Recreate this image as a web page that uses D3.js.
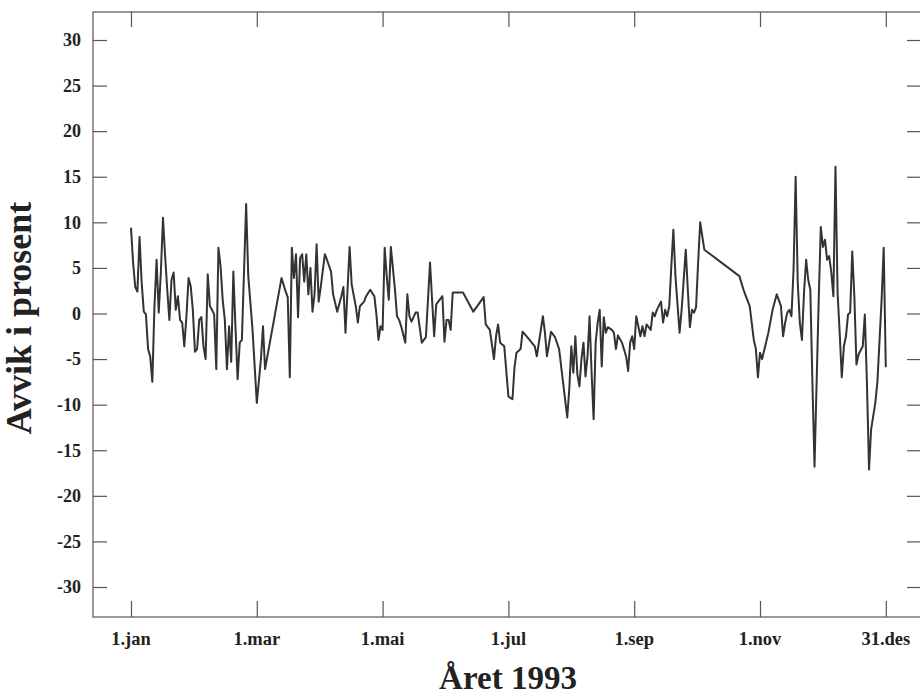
<!DOCTYPE html>
<html>
<head>
<meta charset="utf-8">
<script src="https://cdn.jsdelivr.net/npm/d3@7"></script>
<style>
  html, body { margin: 0; padding: 0; background: #fff; }
  svg { display: block; }
  text { font-family: "Liberation Serif", "Times New Roman", serif; font-weight: bold; fill: #222; }
</style>
</head>
<body>
<svg id="chart" width="920" height="698"></svg>
<script>
// ---- data ----
const tickDays = [0, 59, 120, 181, 243, 304, 364];
const tickLabels = ["1.jan", "1.mar", "1.mai", "1.jul", "1.sep", "1.nov", "31.des"];
const yTicks = [-30, -25, -20, -15, -10, -5, 0, 5, 10, 15, 20, 25, 30];

const days = [
  0,1,2,3,4,5,6,7,8,9,10,11,12,13,14,15,16,17,18,19,20,21,22,23,24,25,26,27,28,29,
  30,31,32,33,34,35,36,37,38,39,40,41,42,43,44,45,46,47,48,49,50,51,52,54,55,57,59,
  61,62,63,71,73,74,75,76,77,78,79,80,81,82,83,84,85,86,87,88,89,90,92,93,95,96,98,
  100,101,102,104,105,107,108,109,111,112,114,116,117,118,119,120,121,122,123,124,
  126,127,128,129,131,132,133,134,135,136,137,139,140,141,143,144,145,146,149,150,
  151,152,153,154,159,164,169,170,172,174,175,176,177,179,181,183,184,185,187,188,
  190,194,195,198,199,200,202,204,206,207,210,211,212,213,214,215,216,217,218,219,
  220,221,222,223,224,225,226,227,228,229,230,232,233,234,235,237,239,240,241,242,
  243,244,246,247,248,249,251,252,253,254,256,257,258,259,260,261,262,263,265,266,
  268,269,270,271,272,273,274,275,277,294,296,299,301,302,303,304,305,308,310,312,
  314,315,316,317,318,319,320,321,322,323,324,325,326,327,328,329,330,332,333,334,
  335,336,337,338,339,340,341,342,343,344,345,346,347,348,349,350,351,353,354,355,
  356,357,359,360,362,363,364
];
const values = [
  9.4,5.5,2.9,2.4,8.4,3.4,0.2,-0.1,-3.9,-4.7,-7.5,0.8,5.9,0.1,4.5,10.5,6.3,2.6,-0.7,3.7,4.5,0.4,1.9,-0.7,-1.0,-3.6,-0.3,3.9,3.0,0.4,
  -4.2,-3.9,-0.7,-0.4,-3.6,-5.0,4.3,0.8,0.4,-0.1,-6.1,7.2,5.2,1.5,-0.7,-6.1,-1.4,-5.3,4.6,-1.5,-7.2,-3.2,-2.9,12.0,4.1,-1.8,-9.8,
  -5.0,-1.4,-6.1,3.9,2.4,1.8,-7.0,7.2,3.9,6.5,-0.4,6.1,6.5,3.5,6.5,2.1,5.0,0.2,2.1,7.6,1.3,2.9,6.5,5.9,4.6,2.1,0.2,
  1.9,2.9,-2.1,7.3,3.2,0.8,-1.0,0.8,1.3,1.9,2.6,1.9,-0.1,-2.9,-1.4,-1.8,7.2,4.1,1.5,7.3,
  2.6,-0.3,-0.7,-1.4,-3.2,2.1,-0.3,-0.9,-0.4,0.1,0.1,-3.2,-2.9,-2.6,5.6,1.5,-2.5,1.0,1.9,-3.1,
  -0.7,-0.7,-1.8,2.3,2.3,0.2,1.8,-1.2,-1.8,-5.0,-2.5,-1.2,-3.2,-3.6,-9.1,-9.4,-5.9,-4.3,-3.9,-2.0,
  -2.5,-3.6,-4.7,-0.3,-2.1,-4.7,-2.0,-2.6,-3.9,-5.8,-11.4,-8.3,-3.6,-6.5,-2.5,-6.7,-8.0,-5.0,-3.2,-6.9,
  -4.7,-0.3,-6.5,-11.6,-3.2,-1.0,0.4,-5.8,-0.4,-2.1,-1.5,-1.8,-2.1,-3.9,-2.4,-3.2,-4.7,-6.3,-3.2,-2.5,
  -3.9,-0.3,-2.5,-1.4,-2.5,-1.2,-1.8,0.1,-0.3,0.4,1.3,-1.0,0.4,-0.3,0.8,5.2,9.2,4.1,-2.1,0.4,
  7.0,2.6,-1.5,0.4,0.1,0.7,5.6,10.0,7.0,4.1,2.6,0.8,-2.9,-3.9,-7.0,-4.3,-5.0,-2.1,0.4,2.1,
  0.8,-2.5,-1.0,0.1,0.4,-0.3,4.8,15.0,3.4,-1.0,-2.9,2.3,5.9,3.7,2.6,-7.6,-16.8,1.5,9.5,7.3,
  8.1,5.9,6.3,4.5,1.9,16.1,2.3,-2.1,-7.0,-3.6,-2.5,-0.1,0.1,6.8,1.9,-5.6,-4.5,-3.6,-0.1,-7.6,
  -17.1,-12.7,-9.8,-7.5,1.5,7.2,-5.9
];

// ---- layout ----
const svg = d3.select("#chart");
const frame = { left: 93, top: 12, right: 921, bottom: 617 };
const firstTickX = 131, tickStep = 125.8;

const x = d3.scaleLinear()
  .domain(tickDays)
  .range(tickDays.map((d, i) => firstTickX + i * tickStep));
const y = d3.scaleLinear().domain([-30, 30]).range([587, 40]);

const frameColor = "#555";

// frame
svg.append("rect")
  .attr("x", frame.left).attr("y", frame.top)
  .attr("width", frame.right - frame.left).attr("height", frame.bottom - frame.top)
  .attr("fill", "none").attr("stroke", frameColor).attr("stroke-width", 1.2);

// left axis (ticks inward)
const leftAxis = d3.axisRight(y).tickValues(yTicks).tickSize(14).tickFormat("");
svg.append("g").attr("transform", `translate(${frame.left},0)`).call(leftAxis)
  .call(g => g.select(".domain").remove())
  .call(g => g.selectAll("line").attr("stroke", frameColor).attr("stroke-width", 1.2));
svg.append("g").selectAll("text").data(yTicks).join("text")
  .attr("x", 81).attr("y", d => y(d)).attr("dy", "0.35em")
  .attr("text-anchor", "end").attr("font-size", 18)
  .text(d => d);

// right axis (ticks inward)
const rightAxis = d3.axisLeft(y).tickValues(yTicks).tickSize(14).tickFormat("");
svg.append("g").attr("transform", `translate(${frame.right},0)`).call(rightAxis)
  .call(g => g.select(".domain").remove())
  .call(g => g.selectAll("line").attr("stroke", frameColor).attr("stroke-width", 1.2));

// bottom axis (ticks inward)
const bottomAxis = d3.axisTop(x).tickValues(tickDays).tickSize(16).tickFormat("");
svg.append("g").attr("transform", `translate(0,${frame.bottom})`).call(bottomAxis)
  .call(g => g.select(".domain").remove())
  .call(g => g.selectAll("line").attr("stroke", frameColor).attr("stroke-width", 1.2));
svg.append("g").selectAll("text").data(tickDays).join("text")
  .attr("x", d => x(d)).attr("y", 645)
  .attr("text-anchor", "middle").attr("font-size", 18.5)
  .text((d, i) => tickLabels[i]);

// top axis (ticks inward)
const topAxis = d3.axisBottom(x).tickValues(tickDays).tickSize(15).tickFormat("");
svg.append("g").attr("transform", `translate(0,${frame.top})`).call(topAxis)
  .call(g => g.select(".domain").remove())
  .call(g => g.selectAll("line").attr("stroke", frameColor).attr("stroke-width", 1.2));

// axis titles
svg.append("text")
  .attr("transform", `translate(31,318) rotate(-90)`)
  .attr("text-anchor", "middle").attr("font-size", 36)
  .text("Avvik i prosent");
svg.append("text")
  .attr("x", 508).attr("y", 689)
  .attr("text-anchor", "middle").attr("font-size", 33)
  .text("Året 1993");

// line
const pts = days.map((d, i) => [d, values[i]]);
svg.append("path")
  .datum(pts)
  .attr("fill", "none")
  .attr("stroke", "#333")
  .attr("stroke-width", 2)
  .attr("stroke-linejoin", "round")
  .attr("d", d3.line().x(p => x(p[0])).y(p => y(p[1])));
</script>
</body>
</html>
